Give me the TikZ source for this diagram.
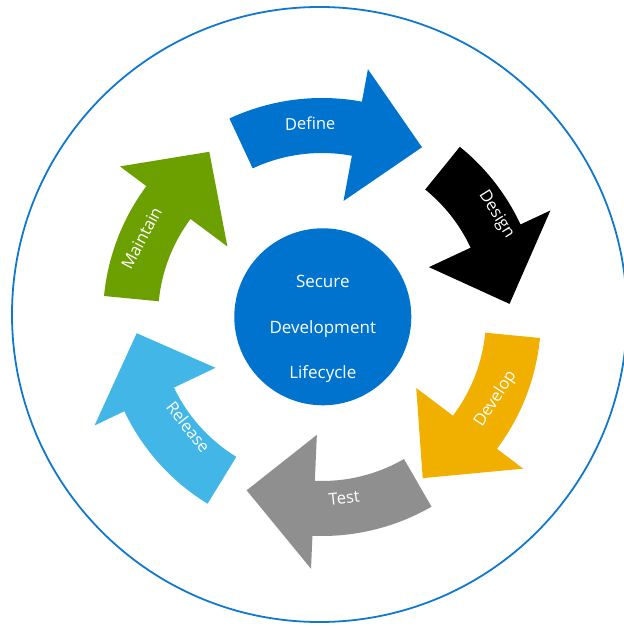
\documentclass[tikz,border=0pt]{standalone}
\usepackage{fontspec}
\setmainfont{Open Sans}
\definecolor{sdlcblue}{RGB}{0,115,206}
\definecolor{ringblue}{RGB}{16,120,205}
\definecolor{developgold}{RGB}{241,175,0}
\definecolor{testgray}{RGB}{143,143,143}
\definecolor{releasecyan}{RGB}{66,182,230}
\definecolor{maintaingreen}{RGB}{108,160,0}
% curved arrow: colour, tail angle, head angle, tip angle, tip radius
\newcommand{\sdlcarrow}[5]{%
  \fill[#1] (#2:219pt) arc[start angle=#2, end angle=#3, radius=219pt]
    -- (#3:252pt) -- (#4:#5pt) -- (#3:118pt) -- (#3:164pt)
    arc[start angle=#3, end angle=#2, radius=164pt] -- cycle;}
\tikzset{steplabel/.style={text=white,font=\fontsize{16.5}{20}\selectfont,inner sep=0pt}}
\begin{document}
\begin{tikzpicture}[x=1pt,y=1pt]
	\useasboundingbox (-322,-311) rectangle (301,317);
	\draw[ringblue,line width=1.8pt] (-2.5,2.5) circle (307.5pt);
	\sdlcarrow{sdlcblue}{115}{79.5}{59.5}{197}
	\sdlcarrow{black}{51}{25}{4}{188}
	\sdlcarrow{developgold}{-5.5}{-37}{-58}{190}
	\sdlcarrow{testgray}{-60}{-92.5}{-113.5}{189}
	\sdlcarrow{releasecyan}{-121.5}{-154.5}{-175}{186}
	\sdlcarrow{maintaingreen}{174.5}{143.3}{124.3}{200}
	\node[steplabel,rotate=1] (define) at (93.5:194pt) {Define};
	\node[steplabel,rotate=-58] (design) at (30.4:202pt) {Design};
	\node[steplabel,rotate=57] (develop) at (-25.3:192pt) {Develop};
	\node[steplabel,rotate=6] (test) at (-83:182pt) {Test};
	\node[steplabel,rotate=-52] (release) at (-140.5:173pt) {Release};
	\node[steplabel,rotate=62] (maintain) at (156.4:197pt) {Maintain};
	\node[circle,fill=sdlcblue,minimum size=177pt,inner sep=0pt] (sdlc) at (0.8,0.2) {};
	\node[text=white,align=center,font=\fontsize{17}{45.5}\selectfont] (sdlctext) at (0.8,-12) {Secure\\Development\\Lifecycle};
\end{tikzpicture}
\end{document}
